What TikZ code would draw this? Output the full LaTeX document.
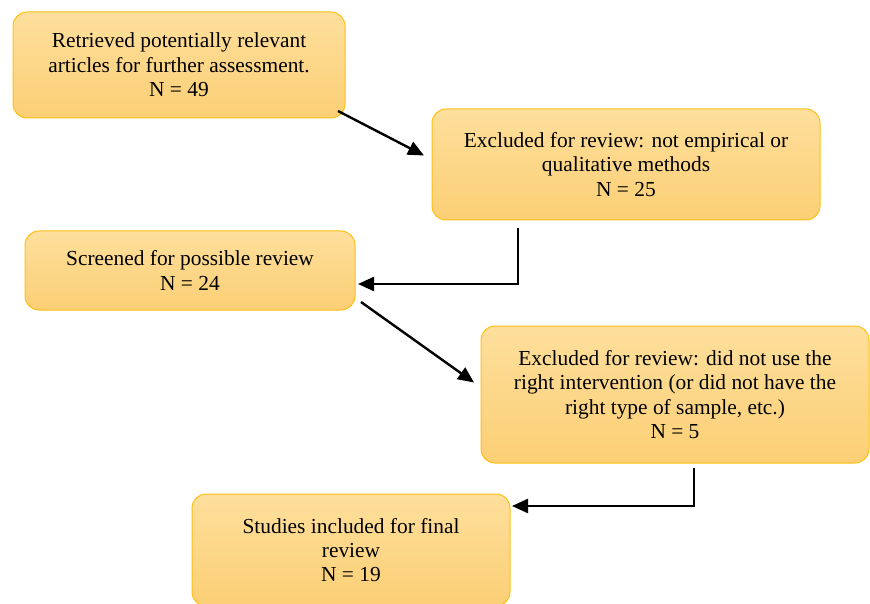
\documentclass[tikz,border=0pt]{standalone}
\usepackage{fontspec}
\setmainfont{Liberation Serif}
\usetikzlibrary{arrows.meta}
\definecolor{boxtop}{RGB}{253,223,156}
\definecolor{boxbottom}{RGB}{252,207,117}
\definecolor{boxline}{RGB}{255,192,20}
\begin{document}
\begin{tikzpicture}[x=1pt,y=-1pt,
  >={Triangle[length=16pt,width=14pt]},
  inner sep=2pt, outer sep=0pt,%
  flow box/.style={draw=boxline,line width=1pt,rounded corners=14pt,
    top color=boxtop,bottom color=boxbottom,align=center,
    font=\fontsize{21.4}{24.4}\selectfont},
  flow arrow/.style={line width=2.4pt,->,line join=miter}]

\useasboundingbox (0,0) rectangle (870,604);

\node[flow box,minimum width=332pt,minimum height=106pt] (retrieved) at (179,65)
  {Retrieved potentially relevant\\articles for further assessment.\\N = 49};
\node[flow box,minimum width=388pt,minimum height=111pt] (excluded1) at (626,164.5)
  {Excluded for review: not empirical or\\qualitative methods\\N = 25};
\node[flow box,minimum width=330pt,minimum height=79pt] (screened) at (190,270.5)
  {Screened for possible review\\N = 24};
\node[flow box,minimum width=388pt,minimum height=137pt] (excluded2) at (675,394.5)
  {Excluded for review: did not use the\\right intervention (or did not have the\\right type of sample, etc.)\\N = 5};
\node[flow box,minimum width=318pt,minimum height=112pt] (included) at (351,550)
  {Studies included for final\\review\\N = 19};

% connectors
\draw[flow arrow] ([xshift=-7pt,yshift=7pt]retrieved.south east) -- ([xshift=-8pt,yshift=9pt]excluded1.west);
\draw[flow arrow] ([xshift=-108pt,yshift=-8pt]excluded1.south) |- ([xshift=3pt,yshift=-13.5pt]screened.east);
\draw[flow arrow] ([xshift=6pt,yshift=8pt]screened.south east) -- ([xshift=-7pt,yshift=12pt]excluded2.west);
\draw[flow arrow] ([xshift=19pt,yshift=-5pt]excluded2.south) |- ([xshift=2pt,yshift=44pt]included.east);

\end{tikzpicture}
\end{document}
